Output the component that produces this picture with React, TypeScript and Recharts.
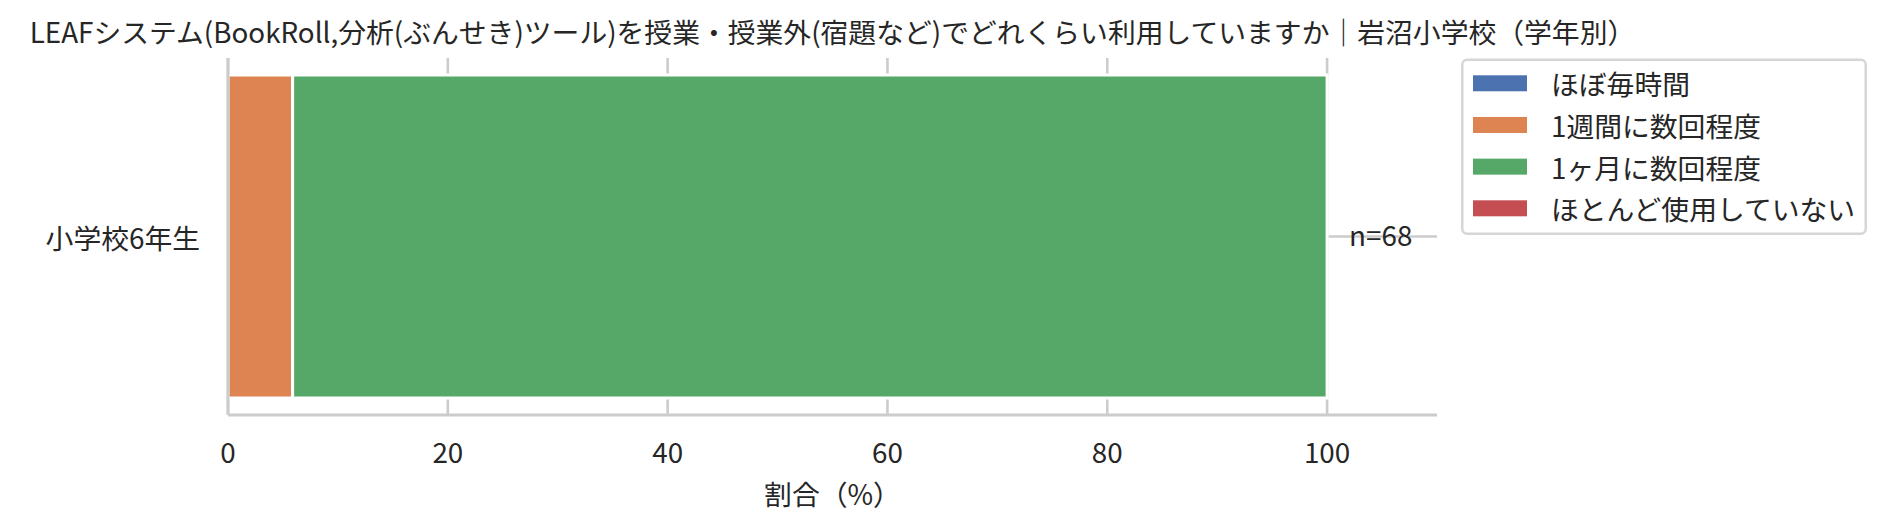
import React from 'react';
import { BarChart, Bar, XAxis, YAxis, CartesianGrid, LabelList } from 'recharts';

// ---- data ----
const categories = ['小学校6年生'];
const seriesNames = ['ほぼ毎時間', '1週間に数回程度', '1ヶ月に数回程度', 'ほとんど使用していない'];
const seriesColors = ['#4C72B0', '#DD8452', '#55A868', '#C44E52'];
const seriesEveryClass = [0];
const seriesWeekly = [5.88];
const seriesMonthly = [94.12];
const seriesRarely = [0];
const sampleSizes = [68];
const xTicks = [0, 20, 40, 60, 80, 100];
const xDomain = [0, 110];
const title =
  'LEAFシステム(BookRoll,分析(ぶんせき)ツール)を授業・授業外(宿題など)でどれくらい利用していますか｜岩沼小学校（学年別）';
const xLabel = '割合（%）';

const seriesValues = [seriesEveryClass, seriesWeekly, seriesMonthly, seriesRarely];
const data = categories.map((name, i) => {
  const row: Record<string, any> = { name, n: sampleSizes[i] };
  seriesValues.forEach((vals, k) => {
    row[`s${k}`] = vals[i];
  });
  return row;
});

// ---- style ----
const FONT = '"Noto Sans CJK JP", "Noto Sans", sans-serif';
const TEXT = '#262626';
const FS = 27.8;
const GRID = '#cccccc';

const W = 1886;
const H = 528;
const PLOT_LEFT = 228;
const PLOT_RIGHT = 1437;
const PLOT_TOP = 58;
const PLOT_BOTTOM = 415;

const XTick = (props: any) => {
  const { x, y, payload } = props;
  return (
    <text x={x} y={y + 48} textAnchor="middle" fill={TEXT} fontSize={FS} fontFamily={FONT}>
      {payload.value}
    </text>
  );
};

const YTick = (props: any) => {
  const { x, y, payload } = props;
  return (
    <text x={x} y={y + 0.5} textAnchor="end" dominantBaseline="central" fill={TEXT} fontSize={FS} fontFamily={FONT}>
      {payload.value}
    </text>
  );
};

const XLabelContent = (props: any) => {
  const vb = props.viewBox || {};
  return (
    <text
      x={vb.x + vb.width / 2}
      y={vb.y + 77.5}
      textAnchor="middle"
      dominantBaseline="central"
      fill={TEXT}
      fontSize={FS}
      fontFamily={FONT}
    >
      {xLabel}
    </text>
  );
};

const NLabel = (props: any) => {
  const src = props.viewBox && props.viewBox.width !== undefined ? props.viewBox : props;
  const x = Number(src.x) + Number(src.width) + 22;
  const y = Number(src.y) + Number(src.height) / 2 - 2.5;
  return (
    <text x={x} y={y} textAnchor="start" dominantBaseline="central" fill={TEXT} fontSize={FS} fontFamily={FONT}>
      {`n=${props.value}`}
    </text>
  );
};

// index of the last series with a non-zero value (where the stack ends)
const lastNonZero = seriesValues.reduce((acc, vals, k) => (vals.some((v) => v > 0) ? k : acc), 0);

export default function App() {
  const legendRowY = (i: number) => 83.3 + i * 41.67;
  return (
    <div style={{ position: 'absolute', left: 0, top: 0, width: W, height: H, background: '#fff' }}>
      <BarChart
        width={W}
        height={H}
        data={data}
        layout="vertical"
        margin={{ top: PLOT_TOP, right: W - PLOT_RIGHT, bottom: 0, left: 0 }}
        barCategoryGap={17}
      >
        <CartesianGrid stroke={GRID} strokeWidth={2.6} syncWithTicks />
        <XAxis
          type="number"
          domain={xDomain}
          ticks={xTicks}
          allowDataOverflow
          height={H - PLOT_BOTTOM}
          axisLine={{ stroke: GRID, strokeWidth: 3 }}
          tickLine={false}
          tickSize={0}
          tickMargin={0}
          tick={<XTick />}
          label={{ value: xLabel, content: XLabelContent }}
        />
        <YAxis
          type="category"
          dataKey="name"
          width={PLOT_LEFT}
          axisLine={{ stroke: GRID, strokeWidth: 3 }}
          tickLine={false}
          tickSize={0}
          tickMargin={28}
          tick={<YTick />}
        />
        {seriesNames.map((nm, i) => (
          <Bar
            key={nm}
            dataKey={`s${i}`}
            name={nm}
            stackId="a"
            fill={seriesColors[i]}
            stroke="#ffffff"
            strokeWidth={3}
            isAnimationActive={false}
          >
            {i === lastNonZero ? <LabelList dataKey="n" content={NLabel} /> : null}
          </Bar>
        ))}
      </BarChart>
      <svg
        width={W}
        height={H}
        style={{ position: 'absolute', left: 0, top: 0, pointerEvents: 'none' }}
      >
        <text
          x={(PLOT_LEFT + PLOT_RIGHT) / 2}
          y={43}
          textAnchor="middle"
          fill={TEXT}
          fontSize={FS}
          fontFamily={FONT}
        >
          {title}
        </text>
        <rect x={1462.25} y={59.75} width={403.5} height={174} rx={5} ry={5} fill="#ffffff" stroke="#d6d6d6" strokeWidth={2.5} />
        {seriesNames.map((nm, i) => (
          <g key={nm}>
            <rect x={1473} y={legendRowY(i) - 8} width={54} height={16} fill={seriesColors[i]} />
            <text
              x={1551}
              y={legendRowY(i)}
              dominantBaseline="central"
              fill={TEXT}
              fontSize={FS}
              fontFamily={FONT}
            >
              {nm}
            </text>
          </g>
        ))}
      </svg>
    </div>
  );
}
